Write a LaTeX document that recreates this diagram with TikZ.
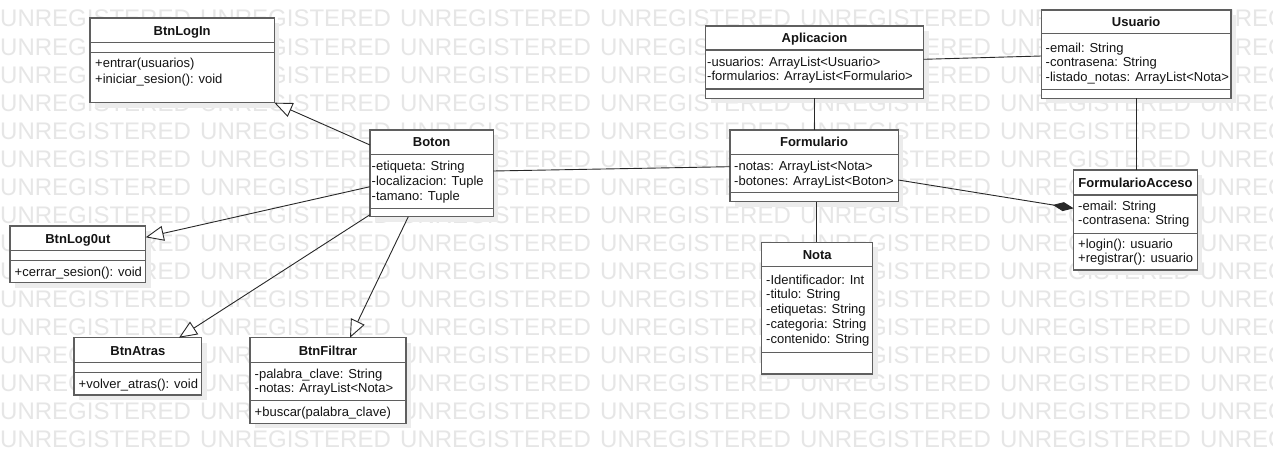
\documentclass[tikz,border=0pt]{standalone}
\usepackage{fontspec}
\setmainfont{Liberation Sans}
\usetikzlibrary{arrows.meta,calc}

\definecolor{wmark}{RGB}{230,230,230}
\definecolor{boxedge}{RGB}{95,95,95}
\definecolor{boxshade}{RGB}{236,236,236}
\definecolor{ink}{RGB}{20,20,20}
\definecolor{wire}{RGB}{40,40,40}

\tikzset{
  umlbox/.style={draw=boxedge, line width=1.4pt, fill=white, inner sep=0pt, outer sep=0pt, anchor=north west},
  umlrule/.style={draw=boxedge, line width=1.4pt},
  umlshade/.style={fill=boxshade},
  umltitle/.style={font=\fontsize{13}{15}\selectfont\bfseries, text=ink, inner sep=0pt, anchor=base},
  umltext/.style={font=\fontsize{13}{15}\selectfont, text=ink, inner sep=0pt, anchor=base west},
  wm/.style={font=\fontsize{24}{24}\selectfont, text=wmark, inner sep=0pt, anchor=base west},
  wire/.style={draw=wire, line width=0.9pt},
  inherit/.style={wire, -{Triangle[length=18pt, width=15pt, fill=white]}},
  compose/.style={wire, -{Diamond[length=21pt, width=9pt, fill=wire]}},
}

% class box: name, left, top, right, bottom, title, first rule, second rule
\newcommand\umlclass[8]{%
  \fill[umlshade] (#2+5,#3+5) rectangle (#4+5,#5+5);
  \node[umlbox, minimum width={#4-#2}, minimum height={#5-#3}] (#1) at (#2,#3) {};
  \node[umltitle] (#1-title) at ({(#2+#4)/2},{(#3+#7)/2+4.8}) {#6};
  \draw[umlrule] (#2,#7) -- (#4,#7);
  \draw[umlrule] (#2,#8) -- (#4,#8);
}

\begin{document}
\begin{tikzpicture}[x=1pt, y=-1pt]
  \useasboundingbox (0,0) rectangle (1273,463);
  \fill[white] (0,0) rectangle (1273,463);
  \clip (0,0) rectangle (1273,463);

  % background lettering
  \foreach \r in {0,...,15}
    \foreach \c in {0,...,6}
      \node[wm] (wm-\r-\c) at (200*\c, 27+28*\r) {UNREGISTERED};

  % ---- classes ----
  \umlclass{btnlogin}{90}{18}{274.3}{102.7}{BtnLogIn}{42.7}{52.3}
  \node[umltext] (btnlogin-m1) at (95,67.5) {+entrar(usuarios)};
  \node[umltext] (btnlogin-m2) at (95,83) {+iniciar\_sesion(): void};

  \umlclass{boton}{370}{130}{493.3}{216.7}{Boton}{154.3}{208.3}
  \node[umltext] (boton-a1) at (371.5,170.2) {-etiqueta: String};
  \node[umltext] (boton-a2) at (371.5,185.5) {-localizacion: Tuple};
  \node[umltext] (boton-a3) at (371.5,200.5) {-tamano: Tuple};

  \umlclass{btnlogout}{10}{226}{145.7}{282.7}{BtnLog0ut}{250.7}{260.7}
  \node[umltext] (btnlogout-m1) at (14.5,276.2) {+cerrar\_sesion(): void};

  \umlclass{btnatras}{74}{337.7}{201.7}{395}{BtnAtras}{362.7}{372.7}
  \node[umltext] (btnatras-m1) at (78.5,388.5) {+volver\_atras(): void};

  \umlclass{btnfiltrar}{250}{337.7}{406}{423.3}{BtnFiltrar}{362.7}{400.7}
  \node[umltext] (btnfiltrar-a1) at (254.5,378.8) {-palabra\_clave: String};
  \node[umltext] (btnfiltrar-a2) at (254.5,392.8) {-notas: ArrayList<Nota>};
  \node[umltext] (btnfiltrar-m1) at (254.5,416.8) {+buscar(palabra\_clave)};

  \umlclass{aplicacion}{705.6}{26}{923.5}{98.3}{Aplicacion}{50}{89}
  \node[umltext] (aplicacion-a1) at (707,66.2) {-usuarios: ArrayList<Usuario>};
  \node[umltext] (aplicacion-a2) at (707,80.5) {-formularios: ArrayList<Formulario>};

  \umlclass{usuario}{1041.3}{10}{1231}{98.3}{Usuario}{33.3}{89.3}
  \node[umltext] (usuario-a1) at (1045.5,52.8) {-email: String};
  \node[umltext] (usuario-a2) at (1045.5,66.8) {-contrasena: String};
  \node[umltext] (usuario-a3) at (1045.5,81.2) {-listado\_notas: ArrayList<Nota>};

  \umlclass{formulario}{729.8}{130}{898.2}{201.7}{Formulario}{154.3}{192.7}
  \node[umltext] (formulario-a1) at (734,170.2) {-notas: ArrayList<Nota>};
  \node[umltext] (formulario-a2) at (734,185.2) {-botones: ArrayList<Boton>};

  \umlclass{formacceso}{1073.6}{170}{1197.4}{270}{FormularioAcceso}{195}{233.3}
  \node[umltext] (formacceso-a1) at (1078,210.5) {-email: String};
  \node[umltext] (formacceso-a2) at (1078,224.5) {-contrasena: String};
  \node[umltext] (formacceso-m1) at (1078,248.5) {+login(): usuario};
  \node[umltext] (formacceso-m2) at (1078,262.8) {+registrar(): usuario};

  \umlclass{nota}{761.7}{242.3}{872.7}{374}{Nota}{266.7}{352.3}
  \node[umltext] (nota-a1) at (766,284.5) {-Identificador: Int};
  \node[umltext] (nota-a2) at (766,298.8) {-titulo: String};
  \node[umltext] (nota-a3) at (766,313.8) {-etiquetas: String};
  \node[umltext] (nota-a4) at (766,328.8) {-categoria: String};
  \node[umltext] (nota-a5) at (766,343.5) {-contenido: String};

  % ---- generalisations ----
  \draw[inherit] ($(boton.north west)+(0,15)$) -- (btnlogin.south east);
  \draw[inherit] ($(boton.north west)+(0,56.7)$) -- ($(btnlogout.north east)+(0,11.3)$);
  \draw[inherit] ($(boton.south west)+(0,-2)$) -- ($(btnatras.north west)+(105,0)$);
  \draw[inherit] ($(boton.south west)+(38.3,0)$) -- ($(btnfiltrar.north west)+(100,0)$);

  % ---- associations ----
  \draw[wire] ($(boton.north east)+(0,41)$) -- ($(formulario.north west)+(0,36.7)$);
  \draw[wire] (formulario.north) -- (formulario.north |- aplicacion.south);
  \draw[wire] ($(aplicacion.north east)+(0,33.3)$) -- ($(usuario.north west)+(0,46)$);
  \draw[wire] (usuario.south) -- (usuario.south |- formacceso.north);
  \draw[wire] ($(formulario.south)+(2,0)$) -- ($(nota.north)+(-1.2,0)$);

  % ---- composition ----
  \draw[compose] ($(formulario.north east)+(0,50)$) -- ($(formacceso.north west)+(0,38.3)$);
\end{tikzpicture}
\end{document}
